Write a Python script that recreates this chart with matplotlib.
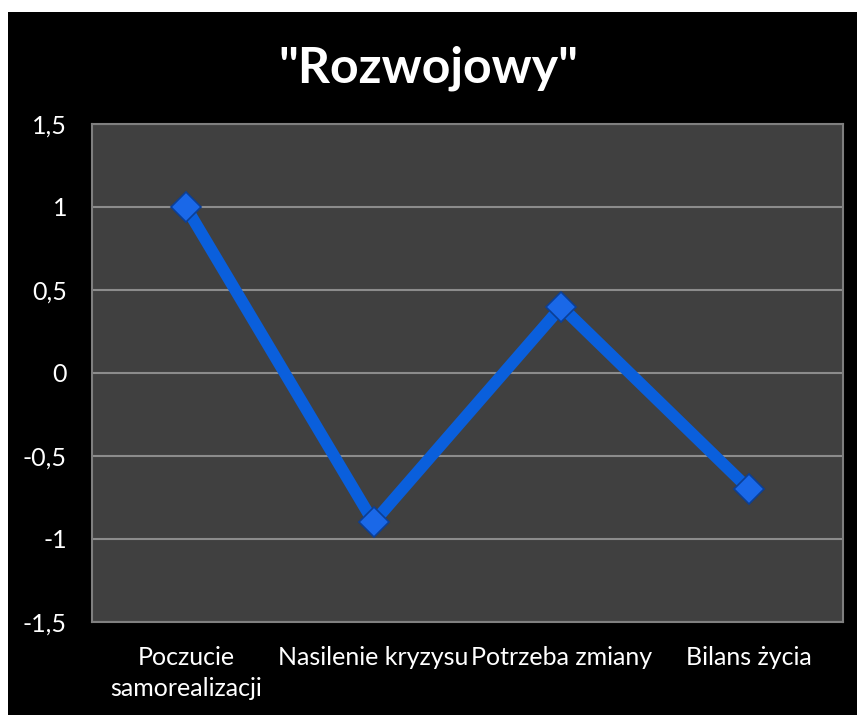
import matplotlib
matplotlib.use("Agg")
import matplotlib.pyplot as plt
from matplotlib.ticker import FuncFormatter

categories = ["Poczucie\nsamorealizacji", "Nasilenie kryzysu", "Potrzeba zmiany", "Bilans życia"]
values = [1.0, -0.9, 0.4, -0.7]
yticks = [-1.5, -1.0, -0.5, 0.0, 0.5, 1.0, 1.5]
title = '"Rozwojowy"'

plt.rcParams['font.family'] = ['Lato', 'DejaVu Sans']

W, H = 857, 715
fig = plt.figure(figsize=(W / 100, H / 100), dpi=100, facecolor='white')
# black background panel (white strip at top and left)
bg = fig.add_axes([8 / W, 0, 1 - 8 / W, 1 - 12 / H])
bg.set_facecolor('black')
bg.set_xticks([]); bg.set_yticks([])
for s in bg.spines.values():
    s.set_visible(False)
bg.set_zorder(0)

ax = fig.add_axes([92 / W, 1 - 622 / H, (843 - 92) / W, (622 - 124) / H])
ax.set_zorder(1)
ax.set_facecolor('#404040')
x = list(range(len(categories)))
ax.plot(x, values, color='#0a5fdc', lw=8.5, solid_capstyle='butt', zorder=3)
ax.plot(x, values, ls='none', marker='D', ms=15.5, mfc='#1a68e8', mec='#0b3f96', mew=1.2, zorder=4)

ax.set_xlim(-0.5, len(categories) - 0.5)
ax.set_ylim(yticks[0], yticks[-1])
ax.set_yticks(yticks)
ax.yaxis.set_major_formatter(FuncFormatter(lambda v, p: ('%g' % v).replace('.', ',')))
ax.set_xticks(x)
ax.set_xticklabels(categories, linespacing=1.45)
ax.grid(axis='y', color='#8c8c8c', lw=1.5, zorder=1)
ax.set_axisbelow(True)
for s in ax.spines.values():
    s.set_color('#7f7f7f')
    s.set_linewidth(1.5)
ax.tick_params(axis='both', length=0, colors='white', labelsize=18)
ax.tick_params(axis='y', pad=18)
ax.tick_params(axis='x', pad=17)

fig.text(428 / W, 1 - 68 / H, title, color='white', fontsize=36, fontweight='bold',
         ha='center', va='center')

fig.savefig('out.png', dpi=100, facecolor='white')
